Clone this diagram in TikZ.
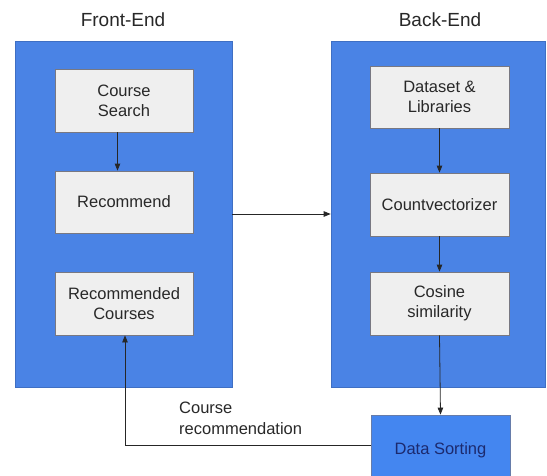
\documentclass[tikz,border=0pt]{standalone}
\usepackage{fontspec}
\setmainfont{Liberation Sans}
\usetikzlibrary{arrows.meta}
\definecolor{panelblue}{RGB}{74,131,229}
\definecolor{sortblue}{RGB}{68,134,240}
\definecolor{boxgray}{RGB}{239,239,239}
\definecolor{boxedge}{RGB}{120,120,130}
\definecolor{txtgray}{RGB}{40,40,40}
\definecolor{navytext}{RGB}{28,42,110}
\tikzset{
  panel/.style={draw=panelblue!85!black, line width=0.6pt, fill=panelblue, inner sep=0pt},
  stepbox/.style={draw=boxedge, line width=0.8pt, fill=boxgray, inner sep=0pt,
    minimum width=138pt, minimum height=63pt, align=center, text=txtgray,
    font=\fontsize{16.5}{20}\selectfont},
  sortbox/.style={draw=boxedge!60!panelblue, line width=0.8pt, fill=sortblue, inner sep=0pt,
    minimum width=139pt, minimum height=70pt, text=navytext,
    font=\fontsize{16.5}{20}\selectfont},
  heading/.style={text=txtgray, font=\fontsize{19}{22}\selectfont, inner sep=0pt},
  note/.style={text=txtgray, align=left, inner sep=0pt, font=\fontsize{16.5}{21}\selectfont},
  link/.style={draw=black!85, line width=0.8pt, -{Triangle[length=7pt,width=5.5pt]}},
  plain/.style={draw=black!70, line width=0.8pt}
}
\begin{document}
\begin{tikzpicture}[x=1pt, y=-1pt]
  \useasboundingbox (0,0) rectangle (547,475);
  \clip (0,0) rectangle (547,475);
  \fill[white] (0,0) rectangle (547,475);

  % column headings
  \node[heading] (fehead) at (123,20) {Front-End};
  \node[heading] (behead) at (440,20) {Back-End};

  % the two blue containers
  \node[panel, minimum width=217pt, minimum height=346pt] (front) at (123.5,214) {};
  \node[panel, minimum width=214pt, minimum height=346pt] (back) at (438,214) {};

  % front-end steps
  \node[stepbox] (search) at (124,100.5) {Course\\Search};
  \node[stepbox, minimum height=62pt] (recommend) at (124,202) {Recommend};
  \node[stepbox] (courses) at (124,303.5) {Recommended\\Courses};

  % back-end steps
  \node[stepbox, minimum width=139pt, minimum height=62pt] (dataset) at (439.5,97) {Dataset \&\\Libraries};
  \node[stepbox, minimum width=139pt] (countvec) at (439.5,204.5) {Countvectorizer};
  \node[stepbox, minimum width=139pt] (cosine) at (439.5,303.5) {Cosine\\similarity};

  % sorting stage below the back-end
  \node[sortbox] (sorting) at (440.5,450) {Data Sorting};

  % connectors
  \draw[link] ([xshift=-6.5pt]search.south) -- ([xshift=-6.5pt]recommend.north);
  \draw[link] (front.east) -- (back.west);
  \draw[link] (dataset.south) -- (countvec.north);
  \draw[link] (countvec.south) -- (cosine.north);
  \draw[link] (cosine.south) -- (sorting.north);
  \coordinate (turn) at (125,445);
  \draw[link] ([yshift=5pt]sorting.west) -- (turn) -- (courses.south -| turn);

  \node[note, anchor=west] (feedback) at (179,418.5) {Course\\recommendation};
\end{tikzpicture}
\end{document}
